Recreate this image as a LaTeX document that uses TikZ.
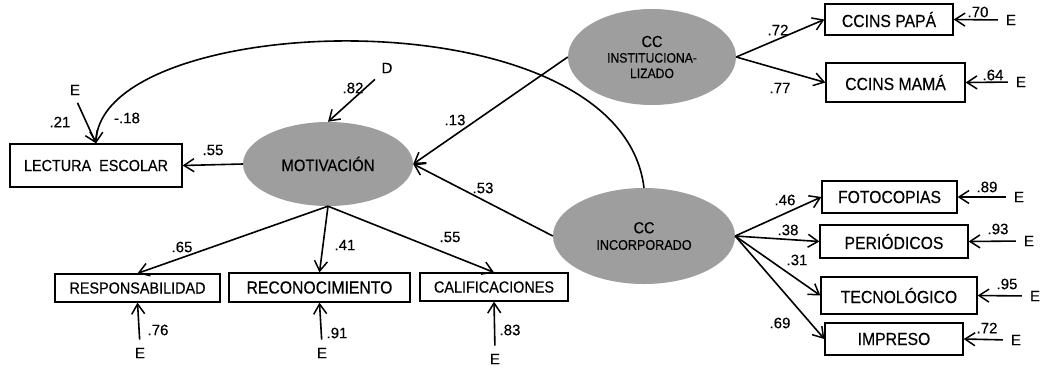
\documentclass[tikz,border=0pt]{standalone}
\usepackage{fontspec}
\setmainfont[FakeBold=0.35]{Liberation Sans}
\newfontfamily\bxfont[FakeStretch=0.9,FakeBold=0.35]{Liberation Sans}
\usetikzlibrary{shapes.geometric,arrows.meta}
\definecolor{latgray}{RGB}{158,158,158}
\begin{document}
\begin{tikzpicture}[x=1pt,y=-1pt,
  every node/.style={inner sep=0pt},
  conn/.style={line width=1.6pt,-{Straight Barb[length=10pt,width=13pt,line width=1.5pt]}},
  errconn/.style={conn,shorten <=6pt},
  obsbox/.style={draw,line width=1.3pt,fill=white,font=\bxfont\fontsize{16}{18}\selectfont},
  bigbox/.style={obsbox,font=\bxfont\fontsize{17.5}{19}\selectfont},
  latent/.style={ellipse,fill=latgray,align=center},
  coef/.style={font=\fontsize{15}{16}\selectfont},
  errlab/.style={font=\fontsize{15}{16}\selectfont,inner sep=2pt}]
\useasboundingbox (0,0) rectangle (1040,368);
\fill[white] (0,0) rectangle (1040,368);

% latent variables
\node[latent,minimum width=170pt,minimum height=84pt,font=\bxfont\fontsize{16.5}{18}\selectfont] (mot) at (328,164) {MOTIVACIÓN};
\node[latent,minimum width=168pt,minimum height=96pt,font=\bxfont\fontsize{13.5}{15.5}\selectfont] (inst) at (652,57) {{\fontsize{16}{16}\selectfont CC}\\INSTITUCIONA-\\LIZADO};
\node[latent,minimum width=182pt,minimum height=96pt,font=\bxfont\fontsize{14}{16.5}\selectfont] (inc) at (644,236) {{\fontsize{16}{16}\selectfont CC}\\INCORPORADO};

% observed variables
\node[obsbox,minimum width=172pt,minimum height=43pt] (lect) at (96,165.5) {LECTURA\ \ ESCOLAR};
\node[obsbox,minimum width=165pt,minimum height=28pt] (resp) at (137.5,288) {RESPONSABILIDAD};
\node[bigbox,minimum width=181pt,minimum height=29pt] (recon) at (319.5,287.5) {RECONOCIMIENTO};
\node[obsbox,minimum width=148pt,minimum height=28pt] (calif) at (494,287) {CALIFICACIONES};
\node[bigbox,minimum width=128pt,minimum height=31pt] (papa) at (889,19.5) {CCINS PAPÁ};
\node[bigbox,minimum width=139pt,minimum height=39pt] (mama) at (895.5,82.5) {CCINS MAMÁ};
\node[bigbox,minimum width=135pt,minimum height=32pt] (foto) at (889.5,197) {FOTOCOPIAS};
\node[bigbox,minimum width=148pt,minimum height=33pt] (peri) at (894,241.5) {PERIÓDICOS};
\node[bigbox,minimum width=156pt,minimum height=37pt] (tecn) at (899,295.5) {TECNOLÓGICO};
\node[bigbox,minimum width=138pt,minimum height=32pt] (impr) at (894,339) {IMPRESO};

% error / disturbance terms
\node[errlab] (elect) at (75,90) {E};
\node[errlab] (dmot) at (387,68) {D};
\node[errlab] (eresp) at (140,353) {E};
\node[errlab] (erecon) at (322,353) {E};
\node[errlab] (ecalif) at (495,359) {E};
\node[errlab] (epapa) at (1011,20) {E};
\node[errlab] (emama) at (1021,82) {E};
\node[errlab] (efoto) at (1019,197) {E};
\node[errlab] (eperi) at (1029,241) {E};
\node[errlab] (etecn) at (1035,296) {E};
\node[errlab] (eimpr) at (1016,340) {E};

% structural paths
\draw[conn] (mot.west) -- (lect.east);
\draw[conn] (inst.west) -- (mot.east);
\draw[conn] (inc.west) -- (mot.east);
\draw[conn] (inc.north) .. controls (620,-10) and (100,10) .. (lect.north);

% measurement paths
\draw[conn] (mot.south) -- (resp.north);
\draw[conn] (mot.south) -- (recon.north);
\draw[conn] (mot.south) -- (calif.north);
\draw[conn] (inst.east) -- (papa.west);
\draw[conn] (inst.east) -- (mama.west);
\draw[conn] (inc.east) -- (foto.west);
\draw[conn] (inc.east) -- (peri.west);
\draw[conn] (inc.east) -- (tecn.west);
\draw[conn] (inc.east) -- (impr.west);

% error paths
\draw[errconn] (elect.south) -- (lect.north);
\draw[errconn] (dmot.south west) -- (mot.north);
\draw[errconn] (eresp.north) -- (resp.south);
\draw[errconn] (erecon.north) -- (recon.south);
\draw[errconn] (ecalif.north) -- (calif.south);
\draw[errconn] (epapa.west) -- (papa.east);
\draw[errconn] (emama.west) -- (mama.east);
\draw[errconn] (efoto.west) -- (foto.east);
\draw[errconn] (eperi.west) -- (peri.east);
\draw[errconn] (etecn.west) -- (tecn.east);
\draw[errconn] (eimpr.west) -- (impr.east);

% coefficients
\node[coef] (c1) at (60,122) {.21};
\node[coef] (c2) at (127,118) {-.18};
\node[coef] (c3) at (213,150) {.55};
\node[coef] (c4) at (353,88) {.82};
\node[coef] (c5) at (455,120) {.13};
\node[coef] (c6) at (483,188) {.53};
\node[coef] (c7) at (182,247) {.65};
\node[coef] (c8) at (345,245) {.41};
\node[coef] (c9) at (450,237) {.55};
\node[coef] (c10) at (778,30) {.72};
\node[coef] (c11) at (780,88) {.77};
\node[coef] (c12) at (978,12) {.70};
\node[coef] (c13) at (993,75) {.64};
\node[coef] (c14) at (785,200) {.46};
\node[coef] (c15) at (788,230) {.38};
\node[coef] (c16) at (797,260) {.31};
\node[coef] (c17) at (780,323) {.69};
\node[coef] (c18) at (987,187) {.89};
\node[coef] (c19) at (998,229) {.93};
\node[coef] (c20) at (1007,284) {.95};
\node[coef] (c21) at (987,328) {.72};
\node[coef] (c22) at (158,330) {.76};
\node[coef] (c23) at (337,333) {.91};
\node[coef] (c24) at (510,330) {.83};
\end{tikzpicture}
\end{document}
